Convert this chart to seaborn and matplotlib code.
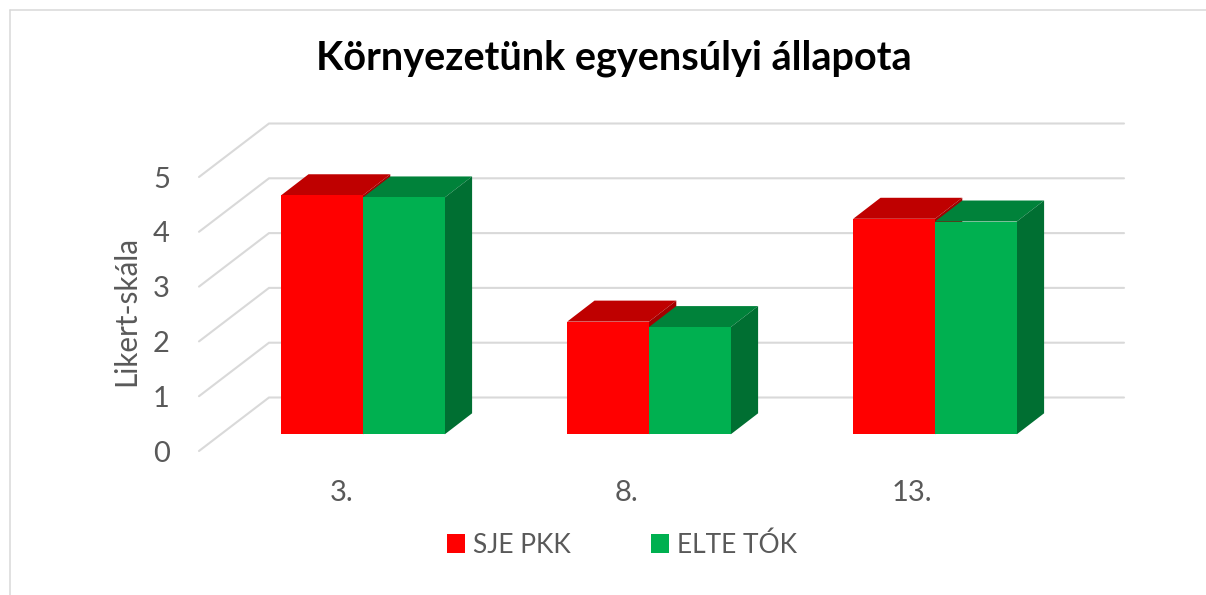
import matplotlib
matplotlib.use("Agg")
import matplotlib.pyplot as plt
from matplotlib.lines import Line2D
from matplotlib.patches import Polygon
import pandas as pd
import seaborn as sns

# adatok
kerdesek = ["3.", "8.", "13."]
sje_pkk = [4.37, 2.06, 3.94]
elte_tok = [4.33, 1.96, 3.89]
skala = [0, 1, 2, 3, 4, 5]
cim = "Környezetünk egyensúlyi állapota"

df = pd.DataFrame({
    "kerdes": kerdesek * 2,
    "ertek": sje_pkk + elte_tok,
    "intezmeny": ["SJE PKK"] * 3 + ["ELTE TÓK"] * 3,
})

W, H = 1206, 595
SZURKE = "#595959"
RACS = "#D9D9D9"
szinek = {"SJE PKK": "#FF0000", "ELTE TÓK": "#00B050"}
teto = ["#BF0000", "#00823A"]
oldal = ["#A30000", "#006F32"]

sns.set_theme(style="white")
plt.rcParams["font.family"] = ["Lato", "DejaVu Sans"]

fig = plt.figure(figsize=(W / 100, H / 100), dpi=100, facecolor="white")


def terulet(x0, y_also, x1, y_felso):
    # pixelek -> figure koordinata
    return [x0 / W, 1 - y_also / H, (x1 - x0) / W, (y_also - y_felso) / H]


# hatso fal + racsvonalak
fal = fig.add_axes(terulet(199, 451, 1054, 177), zorder=1)
fal.set_xlim(0, 1)
fal.set_ylim(0, 5)
mely_x = 70 / 855
mely_y = 53.5 / 54.8
for v in skala:
    fal.plot([0, mely_x, 1 + mely_x], [v, v + mely_y, v + mely_y],
             color=RACS, lw=1.5, clip_on=False, solid_joinstyle="miter")
# a kategoria feliratok az elso sikon vannak, nem az oszlopok alatt
fal.set_xticks([(i + 0.5) / len(kerdesek) for i in range(len(kerdesek))])
fal.set_xticklabels(kerdesek, fontsize=21, color=SZURKE)
fal.set_yticks(skala)
fal.set_yticklabels(skala, fontsize=21, color=SZURKE)
fal.tick_params(axis="y", length=0, pad=21)
fal.tick_params(axis="x", length=0, pad=21)
fal.set_ylabel("Likert-skála", fontsize=21.3, color=SZURKE, labelpad=9, y=0.51)
sns.despine(ax=fal, left=True, bottom=True)
fal.patch.set_alpha(0)

# oszlopok
ax = fig.add_axes(terulet(220, 434.3, 1078, 160.8), zorder=2)
sns.barplot(data=df, x="kerdes", y="ertek", hue="intezmeny", palette=szinek,
            width=0.572, saturation=1, ax=ax, zorder=5, linewidth=0)
ax.set_xlim(-0.5, 2.5)
ax.set_ylim(0, 5)
ax.patch.set_alpha(0)
ax.set_xlabel("")
ax.set_ylabel("")
ax.set_yticks([])
ax.set_xticks([])
sns.despine(ax=ax, left=True, bottom=True)

# 3D hatas: teto es oldallap a seaborn oszlopaibol
dx = 27.3 / 286
dy = 21 / 54.7
for i, cont in enumerate(ax.containers):
    for b in cont:
        x0, w, h = b.get_x(), b.get_width(), b.get_height()
        x1 = x0 + w
        ax.add_patch(Polygon([(x0, h), (x1, h), (x1 + dx, h + dy), (x0 + dx, h + dy)],
                             fc=teto[i], ec="none", zorder=3 + i, clip_on=False))
        ax.add_patch(Polygon([(x1, 0), (x1 + dx, dy), (x1 + dx, h + dy), (x1, h)],
                             fc=oldal[i], ec="none", zorder=3 + i, clip_on=False))

# jelmagyarazat
h_, l_ = ax.get_legend_handles_labels()
ax.legend(h_, l_, ncol=2, frameon=False, fontsize=19, labelcolor=SZURKE,
          handlelength=0.68, handleheight=0.68, handletextpad=0.3, columnspacing=3.03,
          loc="center", bbox_to_anchor=(622 / W, 1 - 545 / H),
          bbox_transform=fig.transFigure)

fig.text(613.5 / W, 1 - 58 / H, cim, fontsize=28.5, fontweight="bold", color="black",
         ha="center", va="center")

# keret
fig.add_artist(Line2D([10 / W, 10 / W], [0, 1 - 9.5 / H], color=RACS, lw=1.1))
fig.add_artist(Line2D([10 / W, 1], [1 - 9.5 / H, 1 - 9.5 / H], color=RACS, lw=1.1))

fig.savefig("out.png", dpi=100)
